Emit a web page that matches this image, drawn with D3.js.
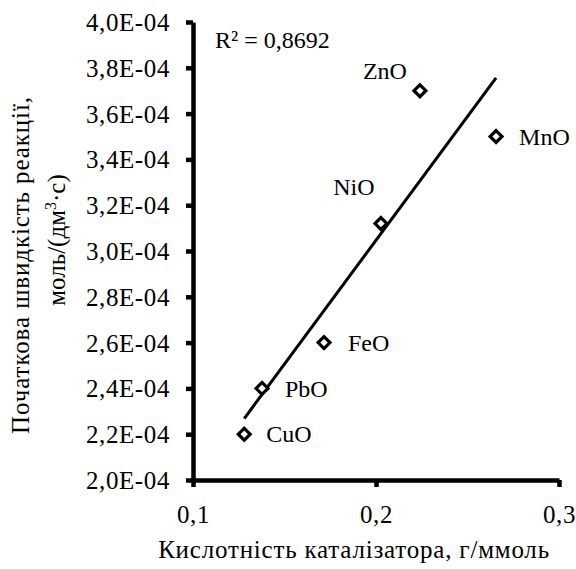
<!DOCTYPE html>
<html>
<head>
<meta charset="utf-8">
<script src="https://cdn.jsdelivr.net/npm/d3@7"></script>
<style>
  body { margin: 0; background: #fff; }
</style>
</head>
<body>
<div id="chart"></div>
<script>
// catalyst oxides, acidity (g/mmol) vs initial reaction rate (mol/(dm3*s))
var oxides = ["CuO", "PbO", "FeO", "NiO", "ZnO", "MnO"];
var acidity = [0.128, 0.1377, 0.1716, 0.2027, 0.224, 0.2656];
var rate = [2.2e-4, 2.4e-4, 2.6e-4, 3.12e-4, 3.7e-4, 3.5e-4];
var xTicks = [0.1, 0.2, 0.3];
var yTicks = [2.0e-4, 2.2e-4, 2.4e-4, 2.6e-4, 2.8e-4, 3.0e-4, 3.2e-4, 3.4e-4, 3.6e-4, 3.8e-4, 4.0e-4];
var r2Label = "R² = 0,8692";

var W = 576, H = 569;
var x0 = 193, x1 = 559, y0 = 480, y1 = 22;
var FONT = "'Liberation Serif'";

var svg = d3.select("#chart").append("svg")
    .attr("width", W)
    .attr("height", H)
    .attr("font-family", FONT)
    .attr("font-size", 24);

var x = d3.scaleLinear().domain([0.1, 0.3]).range([x0, x1]);
var y = d3.scaleLinear().domain([2e-4, 4e-4]).range([y0, y1]);

function yFmt(v) {
    return (v / 1e-4).toFixed(1).replace(".", ",") + "E-04";
}
function xFmt(v) {
    return v.toFixed(1).replace(".", ",");
}

// axes
var xAxis = svg.append("g")
    .attr("transform", "translate(0," + y0 + ")")
    .call(d3.axisBottom(x).tickValues(xTicks).tickFormat(xFmt).tickSize(7).tickSizeOuter(0).tickPadding(14));
var yAxis = svg.append("g")
    .attr("transform", "translate(" + x0 + ",0)")
    .call(d3.axisLeft(y).tickValues(yTicks).tickFormat(yFmt).tickSize(7).tickSizeOuter(0).tickPadding(16));

[xAxis, yAxis].forEach(function(a) {
    a.attr("font-family", FONT).attr("font-size", 25);
    a.select(".domain").attr("stroke", "#000").attr("stroke-width", 4.5);
    a.selectAll(".tick line").attr("stroke", "#000").attr("stroke-width", 4.5);
    a.selectAll(".tick text").attr("fill", "#000");
});
yAxis.selectAll(".tick text").attr("dy", "0.34em").attr("letter-spacing", 0.6);
xAxis.selectAll(".tick text").attr("dy", "0.86em").attr("letter-spacing", 0.6);

// linear trendline (least squares)
var mx = d3.mean(acidity), my = d3.mean(rate);
var sxy = d3.sum(acidity, function(v, i) { return (v - mx) * (rate[i] - my); });
var sxx = d3.sum(acidity, function(v) { return (v - mx) * (v - mx); });
var slope = sxy / sxx, icept = my - slope * mx;
var xr = d3.extent(acidity);

svg.append("line")
    .attr("x1", x(xr[0])).attr("y1", y(icept + slope * xr[0]))
    .attr("x2", x(xr[1])).attr("y2", y(icept + slope * xr[1]))
    .attr("stroke", "#000")
    .attr("stroke-width", 3);

// markers
var diamond = d3.symbol().type(d3.symbolDiamond2).size(90);
svg.selectAll(".pt")
    .data(oxides)
    .enter()
    .append("path")
    .attr("class", "pt")
    .attr("d", diamond)
    .attr("transform", function(d, i) { return "translate(" + x(acidity[i]) + "," + y(rate[i]) + ")"; })
    .attr("fill", "#fff")
    .attr("stroke", "#000")
    .attr("stroke-width", 3.2);

// data labels: offsets relative to each marker
var labelDx = { CuO: 22, PbO: 23, FeO: 24, NiO: -27, ZnO: -35, MnO: 23 };
var labelDy = { CuO: 0, PbO: 0, FeO: 0, NiO: -37, ZnO: -20, MnO: 0 };
var labelAnchor = { CuO: "start", PbO: "start", FeO: "start", NiO: "middle", ZnO: "middle", MnO: "start" };

svg.selectAll(".lbl")
    .data(oxides)
    .enter()
    .append("text")
    .attr("class", "lbl")
    .attr("x", function(d, i) { return x(acidity[i]) + labelDx[d]; })
    .attr("y", function(d, i) { return y(rate[i]) + labelDy[d]; })
    .attr("dy", "0.34em")
    .attr("text-anchor", function(d) { return labelAnchor[d]; })
    .text(function(d) { return d; });

svg.append("text")
    .attr("x", 215)
    .attr("y", 48)
    .text(r2Label);

// axis titles
svg.append("text")
    .attr("x", 354)
    .attr("y", 558)
    .attr("text-anchor", "middle")
    .attr("font-size", 25)
    .attr("letter-spacing", 0.8)
    .text("Кислотність каталізатора, г/ммоль");

var yt1 = svg.append("g").attr("transform", "translate(0,265) rotate(-90)");
yt1.append("text")
    .attr("x", 0).attr("y", 29)
    .attr("text-anchor", "middle")
    .attr("font-size", 25)
    .attr("letter-spacing", 0.9)
    .text("Початкова швидкість реакції,");
var yt2 = svg.append("g").attr("transform", "translate(0,240) rotate(-90)");
var l2 = yt2.append("text")
    .attr("x", 0).attr("y", 65)
    .attr("text-anchor", "middle")
    .attr("font-size", 25);
l2.append("tspan").text("моль/(дм");
l2.append("tspan").attr("dy", -9).attr("font-size", 16).text("3");
l2.append("tspan").attr("dy", 9).text("·с)");
</script>
</body>
</html>
